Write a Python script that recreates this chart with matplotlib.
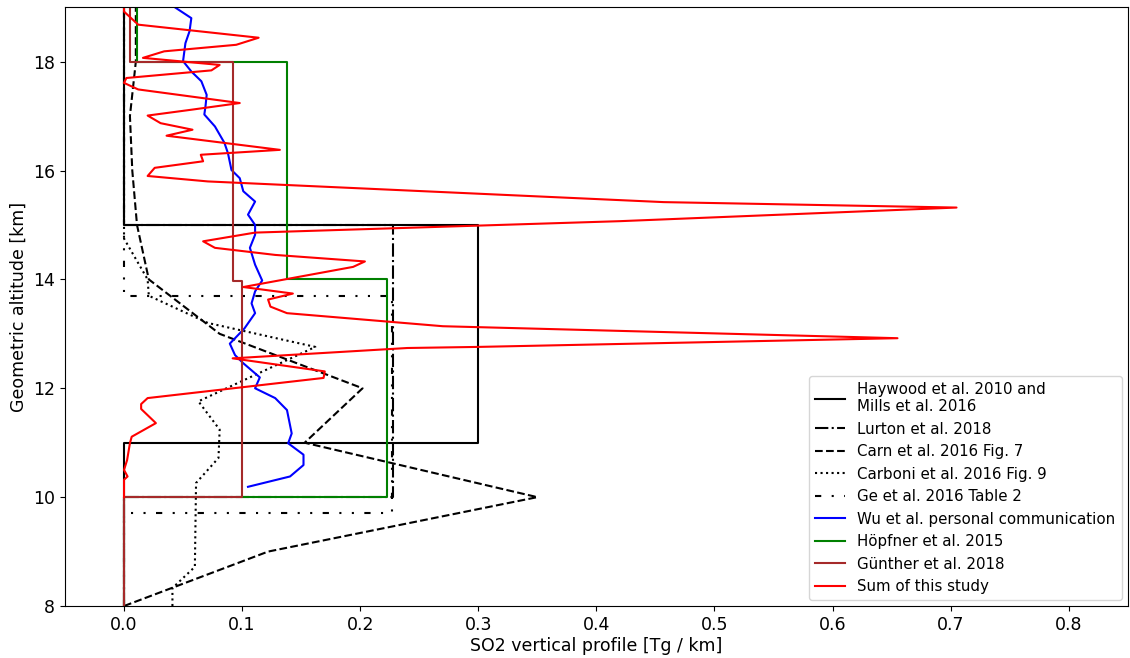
import matplotlib
matplotlib.use("Agg")
import matplotlib.pyplot as plt

# altitude [km] / SO2 [Tg/km] pairs
haywood_z = [8, 11, 11, 15, 15, 19]
haywood_so2 = [0, 0, 0.3, 0.3, 0, 0]

lurton_z = [8, 10, 10, 15, 15, 19]
lurton_so2 = [0, 0, 0.228, 0.228, 0, 0]

carn_z = [8, 9, 10, 11, 12, 13, 14, 15, 16, 17, 18, 19]
carn_so2 = [0, 0.122, 0.35, 0.153, 0.202, 0.081, 0.021, 0.011, 0.007, 0.005, 0.010, 0.010]

carboni_z = [8.0, 8.33, 8.72, 10.26, 10.72, 11.24, 11.76, 12.76, 13.2, 13.7, 14.0, 14.75, 19]
carboni_so2 = [0.041, 0.041, 0.060, 0.061, 0.080, 0.081, 0.063, 0.162, 0.071, 0.021, 0.020, 0.0, 0.0]

ge_z = [8, 9.7, 9.7, 13.7, 13.7, 19]
ge_so2 = [0, 0, 0.227, 0.227, 0, 0]

wu_z = [19.0, 18.80, 18.56, 18.34, 18.01, 17.82, 17.64, 17.39, 17.18, 17.03, 16.81,
        16.51, 16.32, 16.01, 15.86, 15.62, 15.43, 15.19, 15.0, 14.82, 14.58, 14.27,
        13.98, 13.78, 13.56, 13.38, 13.10, 12.82, 12.61, 12.46, 12.20, 12.0, 11.82,
        11.60, 11.17, 10.99, 10.78, 10.59, 10.38, 10.19]
wu_so2 = [0.043, 0.057, 0.0555, 0.052, 0.050, 0.057, 0.0655, 0.070, 0.069, 0.068, 0.077,
          0.085, 0.088, 0.091, 0.098, 0.101, 0.111, 0.105, 0.111, 0.111, 0.1066, 0.111,
          0.117, 0.111, 0.108, 0.111, 0.102, 0.0896, 0.094, 0.101, 0.115, 0.111, 0.128,
          0.138, 0.142, 0.139, 0.152, 0.152, 0.1406, 0.105]

hoepfner_z = [8, 10, 10, 14, 14, 18, 18, 19]
hoepfner_so2 = [0, 0, 0.2225, 0.2225, 0.138, 0.138, 0.011, 0.011]

guenther_z = [8, 10, 10, 13.97, 13.97, 18, 18, 19]
guenther_so2 = [0, 0, 0.1, 0.1, 0.092, 0.092, 0.005, 0.005]

sum_z = [19.05, 18.92, 18.68, 18.44, 18.31, 18.19, 18.07, 17.94, 17.84, 17.70, 17.61,
         17.49, 17.24, 17.12, 17.01, 16.87, 16.75, 16.64, 16.38, 16.29, 16.17, 16.05,
         15.90, 15.80, 15.42, 15.32, 15.07, 14.86, 14.70, 14.58, 14.45, 14.33, 14.23,
         13.86, 13.74, 13.63, 13.50, 13.38, 13.14, 12.92, 12.76, 12.74, 12.55, 12.31,
         12.19, 11.82, 11.71, 11.62, 11.36, 11.11, 10.99, 10.68, 10.50, 10.38, 10.32, 10.0]
sum_so2 = [0.0, 0.0, 0.012, 0.114, 0.095, 0.034, 0.016, 0.081, 0.074, 0.002, 0.0,
           0.012, 0.098, 0.058, 0.020, 0.031, 0.058, 0.036, 0.132, 0.065, 0.067, 0.026,
           0.020, 0.071, 0.457, 0.705, 0.42, 0.111, 0.067, 0.077, 0.128, 0.204, 0.194,
           0.101, 0.143, 0.122, 0.124, 0.138, 0.27, 0.655, 0.30, 0.24, 0.092, 0.170,
           0.169, 0.020, 0.0145, 0.0145, 0.027, 0.0065, 0.005, 0.0026, 0.0, 0.003, 0.0, 0.0]

fig = plt.figure(figsize=(11.3, 6.58), dpi=100)
ax = fig.add_axes([0.0575, 0.079, 0.9405, 0.91])

ax.plot(haywood_so2, haywood_z, color="k", label="Haywood et al. 2010 and\nMills et al. 2016")
ax.plot(lurton_so2, lurton_z, color="k", ls="-.", label="Lurton et al. 2018")
ax.plot(carn_so2, carn_z, color="k", ls="--", label="Carn et al. 2016 Fig. 7")
ax.plot(carboni_so2, carboni_z, color="k", ls=":", label="Carboni et al. 2016 Fig. 9")
ax.plot(ge_so2, ge_z, color="k", ls=(0, (3, 5, 1, 5, 1, 5)), label="Ge et al. 2016 Table 2")
ax.plot(wu_so2, wu_z, color="blue", label="Wu et al. personal communication")
ax.plot(hoepfner_so2, hoepfner_z, color="green", label="Höpfner et al. 2015")
ax.plot(guenther_so2, guenther_z, color="brown", label="Günther et al. 2018")
ax.plot(sum_so2, sum_z, color="red", label="Sum of this study")

ax.set_xlim(-0.05, 0.85)
ax.set_ylim(8, 19)
ax.set_xlabel("SO2 vertical profile [Tg / km]", fontsize=12.5, labelpad=2)
ax.set_ylabel("Geometric altitude [km]", fontsize=12.5)
ax.tick_params(labelsize=12.5)
ax.legend(loc="lower right", fontsize=10.8, borderaxespad=0.4)

fig.savefig("out.png", dpi=100)
